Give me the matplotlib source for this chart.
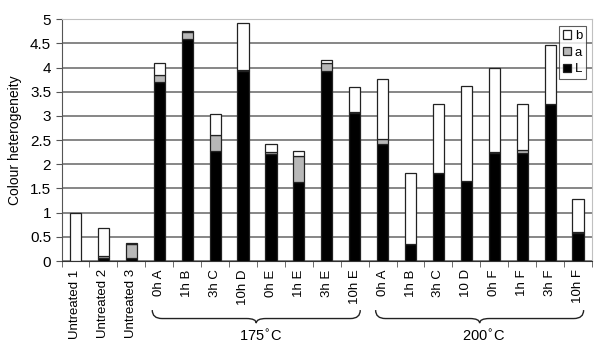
import matplotlib
matplotlib.use('Agg')
import matplotlib.pyplot as plt
import matplotlib.transforms as transforms
from matplotlib.path import Path
from matplotlib.patches import PathPatch
import numpy as np

categories = ['Untreated 1', 'Untreated 2', 'Untreated 3',
              '0h A', '1h B', '3h C', '10h D', '0h E', '1h E', '3h E', '10h E',
              '0h A', '1h B', '3h C', '10 D', '0h F', '1h F', '3h F', '10h F']
L_vals = [0.01, 0.07, 0.07, 3.70, 4.60, 2.28, 3.93, 2.22, 1.64, 3.93, 3.07,
          2.42, 0.36, 1.83, 1.65, 2.24, 2.24, 3.25, 0.57]
a_vals = [0.00, 0.04, 0.29, 0.14, 0.14, 0.32, 0.03, 0.04, 0.53, 0.17, 0.01,
          0.11, 0.00, 0.00, 0.00, 0.01, 0.05, 0.00, 0.04]
b_vals = [0.99, 0.58, 0.02, 0.26, 0.02, 0.45, 0.96, 0.17, 0.11, 0.05, 0.52,
          1.24, 1.47, 1.41, 1.98, 1.74, 0.96, 1.21, 0.68]
groups = [('175$^{\\circ}$C', 3, 10), ('200$^{\\circ}$C', 11, 18)]

plt.rcParams['font.family'] = ['Liberation Sans', 'DejaVu Sans']

fig = plt.figure(figsize=(6.05, 3.52), dpi=100)
ax = fig.add_axes([0.1017, 0.2585, 0.8768, 0.6867])

x = np.arange(len(categories))
w = 0.4
L = np.array(L_vals)
a = np.array(a_vals)
b = np.array(b_vals)
ax.bar(x, L, w, color='black', edgecolor='#222222', linewidth=0.9, label='L', zorder=3)
ax.bar(x, a, w, bottom=L, color='#b8b8b8', edgecolor='#222222', linewidth=0.9, label='a', zorder=3)
ax.bar(x, b, w, bottom=L + a, color='white', edgecolor='#222222', linewidth=0.9, label='b', zorder=3)

ax.set_xlim(-0.5, len(categories) - 0.5)
ax.set_ylim(0, 5)
ax.set_yticks(np.arange(0, 5.01, 0.5))
ax.set_yticklabels(['0', '0.5', '1', '1.5', '2', '2.5', '3', '3.5', '4', '4.5', '5'])
ax.yaxis.grid(True, color='#666666', linewidth=1.1, zorder=0)
ax.set_axisbelow(True)

ax.set_xticks(x)
ax.set_xticklabels(categories, rotation=90, fontsize=9.5)
ax.set_xticks(np.arange(-0.5, len(categories), 1), minor=True)
ax.tick_params(axis='x', which='major', length=0, pad=6)
ax.tick_params(axis='x', which='minor', length=4, color='#555555')
ax.tick_params(axis='y', length=4, labelsize=11, color='#555555')

for s in ['top', 'right']:
    ax.spines[s].set_color('#c0c0c0')
ax.spines['left'].set_color('#555555')
ax.spines['bottom'].set_color('#333333')

ax.set_ylabel('Colour heterogeneity', fontsize=10, labelpad=6)

handles, labels = ax.get_legend_handles_labels()
leg = ax.legend(handles[::-1], labels[::-1], loc='upper right', fontsize=9.5,
                handlelength=0.6, handleheight=0.6, handletextpad=0.3,
                labelspacing=0.35, borderpad=0.3, borderaxespad=0.25,
                fancybox=False, frameon=True, edgecolor='#333333',
                bbox_to_anchor=(0.995, 0.985))
leg.get_frame().set_linewidth(0.8)

# curly braces under the groups
trans = transforms.blended_transform_factory(ax.transData, ax.transAxes)
y_top, y_mid, y_tip = -0.203, -0.238, -0.257
for name, i0, i1 in groups:
    x0, x1 = i0 - 0.25, i1 + 0.2
    xm = (x0 + x1) / 2
    r = 0.35
    verts = [(x0, y_top), (x0, y_mid), (x0 + r, y_mid),
             (xm - r, y_mid),
             (xm, y_mid), (xm, y_tip),
             (xm, y_mid), (xm + r, y_mid),
             (x1 - r, y_mid),
             (x1, y_mid), (x1, y_top)]
    codes = [Path.MOVETO, Path.CURVE3, Path.CURVE3,
             Path.LINETO,
             Path.CURVE3, Path.CURVE3,
             Path.CURVE3, Path.CURVE3,
             Path.LINETO,
             Path.CURVE3, Path.CURVE3]
    patch = PathPatch(Path(verts, codes), transform=trans, fill=False,
                      edgecolor='#222222', linewidth=1.0, clip_on=False)
    ax.add_patch(patch)
    ax.text(xm + 0.15, -0.31, name, transform=trans, ha='center', va='center',
            fontsize=10.5)

fig.savefig('out.png', dpi=100)
